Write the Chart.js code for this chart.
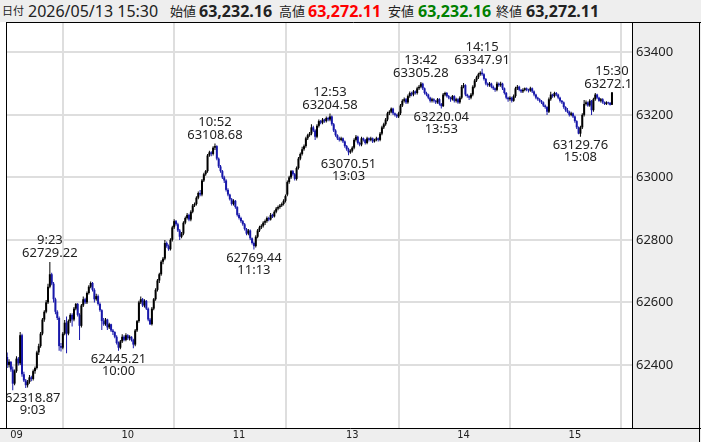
<!DOCTYPE html>
<html>
<head>
<meta charset="utf-8">
<script src="https://cdn.jsdelivr.net/npm/chart.js@4.4.1/dist/chart.umd.min.js"></script>
<style>
html, body { margin: 0; padding: 0; background: #fff; }
#wrap { position: relative; width: 701px; height: 442px; overflow: hidden; }
canvas { position: absolute; left: 0; top: 0; }
#head { position: absolute; left: 0; top: 0; width: 701px; height: 22px; background: #eeeeee;
        font-family: "Noto Sans", "Noto Sans CJK JP", sans-serif; color: #222; }
#head span { position: absolute; top: 0; line-height: 22px; white-space: nowrap; }
.lb { font-size: 13px; }
.lb0 { font-size: 11px; }
.dt { font-size: 16px; }
.v { font-size: 16px; font-weight: bold; }
</style>
</head>
<body>
<div id="wrap">
  <canvas id="chart" width="701" height="442"></canvas>
  <div id="head"></div>
</div>
<script>
// 1-minute candles, index 0 = 9:00 ... 150 = 11:30, 151 = 12:30 ... 325 = 15:24, 326 = 15:30
const opens = [
  62425,62400,62410,62385,62340,62380,62420,62405,62495,62370,
  62350,62335,62345,62360,62355,62380,62390,62440,62460,62500,
  62545,62570,62600,62650,62690,62660,62610,62570,62550,62460,
  62455,62500,62535,62500,62540,62560,62545,62580,62595,62560,
  62525,62590,62610,62600,62630,62650,62662,62640,62610,62620,
  62595,62575,62540,62530,62545,62520,62530,62510,62505,62490,
  62470,62455,62475,62490,62480,62495,62485,62490,62480,62465,
  62510,62540,62600,62610,62590,62605,62580,62545,62530,62580,
  62610,62640,62670,62690,62730,62740,62790,62780,62770,62800,
  62840,62860,62850,62830,62810,62820,62855,62870,62880,62865,
  62890,62910,62915,62935,62950,62945,62990,63010,63020,63070,
  63080,63075,63095,63100,63060,63035,63020,63000,62990,62960,
  62945,62930,62915,62925,62905,62880,62870,62860,62850,62835,
  62820,62830,62805,62790,62780,62810,62830,62840,62845,62855,
  62860,62870,62865,62880,62875,62890,62900,62905,62910,62915,
  62925,
  62945,62985,63000,63020,63010,62995,63030,63060,63075,63090,
  63100,63125,63135,63140,63160,63150,63130,63165,63180,63175,
  63185,63180,63190,63185,63195,63170,63150,63135,63125,63120,
  63125,63115,63100,63090,63080,63085,63095,63120,63130,63110,
  63105,63125,63120,63110,63125,63120,63125,63115,63120,63125,
  63120,63140,63160,63170,63185,63205,63210,63220,63205,63200,
  63195,63205,63230,63245,63250,63240,63260,63270,63265,63275,
  63270,63285,63290,63300,63285,63270,63265,63255,63245,63250,
  63245,63240,63250,63235,63228,63265,63270,63260,63255,63250,
  63260,63245,63250,63240,63255,63290,63295,63265,63260,63255,
  63265,63290,63310,63320,63330,63335,63330,63315,63300,63295,
  63300,63290,63285,63280,63300,63295,63300,63285,63270,63255,
  63250,63255,63245,63260,63285,63290,63280,63275,63280,63285,
  63280,63278,63285,63275,63265,63255,63250,63245,63240,63230,
  63225,63210,63250,63265,63260,63270,63265,63255,63245,63240,
  63225,63215,63210,63200,63205,63195,63180,63160,63140,63160,
  63200,63235,63240,63230,63245,63215,63250,63265,63255,63245,
  63250,63240,63235,63240,63238,63232.16
];
const highs = [
  62440,62418,62412,62395,62385,62428,62425,62505,62500,62378,
  62355,62352,62368,62365,62385,62395,62445,62468,62505,62550,
  62575,62608,62660,62729.22,62695,62665,62615,62575,62555,62470,
  62505,62544,62555,62545,62565,62565,62585,62598,62598,62565,
  62595,62619,62615,62635,62655,62667,62665,62645,62628,62625,
  62600,62578,62550,62550,62548,62535,62532,62515,62508,62495,
  62475,62480,62498,62495,62501,62498,62495,62492,62484,62515,
  62544,62605,62619,62614,62610,62608,62584,62550,62585,62614,
  62645,62675,62695,62735,62745,62800,62795,62785,62805,62845,
  62866,62864,62855,62835,62825,62860,62875,62886,62884,62895,
  62915,62920,62940,62955,62960,62995,63015,63024,63075,63085,
  63084,63100,63108.68,63103,63064,63040,63024,63005,62994,62965,
  62948,62934,62930,62928,62908,62886,62874,62864,62854,62838,
  62835,62833,62808,62795,62815,62835,62845,62850,62860,62865,
  62875,62874,62886,62884,62895,62905,62910,62915,62920,62930,
  62945,
  62990,63005,63024,63024,63014,63035,63065,63080,63098,63105,
  63130,63140,63145,63170,63165,63154,63170,63185,63184,63190,
  63188,63195,63194,63204.58,63198,63174,63154,63138,63130,63130,
  63128,63118,63104,63095,63090,63100,63125,63136,63133,63114,
  63130,63128,63123,63130,63128,63130,63128,63124,63130,63128,
  63145,63165,63175,63190,63210,63215,63224,63223,63208,63204,
  63210,63235,63250,63256,63254,63265,63275,63274,63280,63278,
  63290,63296,63305.28,63303,63288,63274,63268,63258,63255,63253,
  63248,63254,63253,63238,63270,63274,63273,63264,63258,63264,
  63263,63255,63253,63260,63296,63302,63298,63268,63263,63270,
  63295,63315,63325,63335,63340,63347.91,63333,63318,63304,63305,
  63303,63294,63288,63306,63304,63306,63303,63288,63273,63258,
  63260,63258,63265,63290,63296,63293,63283,63285,63288,63288,
  63284,63290,63288,63278,63268,63258,63253,63248,63243,63233,
  63228,63256,63274,63268,63274,63273,63268,63258,63248,63243,
  63228,63222,63213,63210,63208,63198,63183,63163,63165,63205,
  63248,63246,63243,63250,63248,63255,63270,63268,63258,63254,
  63253,63243,63244,63242,63241,63272.11
];
const lows = [
  62390,62392,62378,62318.87,62335,62375,62398,62400,62362,62345,
  62326,62328,62340,62348,62350,62372,62385,62432,62455,62495,
  62538,62565,62595,62645,62655,62600,62562,62544,62445,62443,
  62450,62495,62437,62495,62535,62523,62540,62575,62555,62480,
  62520,62585,62595,62595,62625,62645,62635,62600,62605,62590,
  62570,62512,62525,62525,62512,62515,62505,62496,62485,62465,
  62445.21,62450,62470,62476,62476,62480,62478,62475,62453,62460,
  62505,62535,62595,62585,62584,62576,62540,62528,62526,62575,
  62605,62635,62662,62685,62722,62735,62775,62765,62766,62795,
  62835,62845,62825,62800,62805,62815,62850,62865,62860,62860,
  62885,62905,62910,62930,62940,62940,62985,63005,63015,63066,
  63068,63070,63088,63055,63030,63015,62995,62982,62955,62940,
  62926,62910,62910,62900,62875,62865,62855,62845,62830,62815,
  62815,62800,62785,62769.44,62776,62805,62825,62835,62840,62848,
  62855,62860,62862,62870,62872,62885,62895,62900,62905,62910,
  62920,
  62940,62980,62995,63005,62990,62990,63025,63055,63070,63085,
  63095,63120,63130,63135,63145,63120,63125,63160,63170,63170,
  63175,63176,63180,63180,63165,63145,63130,63120,63115,63116,
  63110,63095,63085,63070.51,63076,63080,63090,63115,63105,63100,
  63100,63115,63105,63106,63115,63116,63110,63112,63116,63115,
  63116,63135,63155,63165,63180,63200,63205,63200,63195,63190,
  63190,63200,63225,63240,63235,63236,63255,63260,63260,63265,
  63265,63280,63285,63280,63265,63260,63250,63240,63240,63240,
  63235,63236,63230,63220.04,63225,63260,63256,63250,63242,63246,
  63240,63240,63236,63236,63250,63285,63260,63255,63248,63250,
  63260,63285,63305,63315,63325,63325,63310,63295,63290,63290,
  63285,63280,63274,63276,63290,63290,63280,63265,63250,63242,
  63245,63240,63242,63255,63280,63276,63270,63270,63276,63276,
  63272,63274,63270,63260,63250,63245,63240,63235,63225,63220,
  63200,63206,63245,63255,63256,63260,63250,63240,63235,63220,
  63210,63205,63195,63196,63190,63175,63155,63138,63129.76,63155,
  63195,63230,63226,63226,63200,63210,63245,63250,63242,63240,
  63236,63232,63232,63233,63230,63232.16
];
const closes = [
  62400,62410,62385,62340,62380,62420,62405,62495,62370,62350,
  62335,62345,62360,62355,62380,62390,62440,62460,62500,62545,
  62570,62600,62650,62690,62660,62610,62570,62550,62460,62455,
  62500,62535,62500,62540,62560,62545,62580,62595,62560,62525,
  62590,62610,62600,62630,62650,62662,62640,62610,62620,62595,
  62575,62540,62530,62545,62520,62530,62510,62505,62490,62470,
  62455,62475,62490,62480,62495,62485,62490,62480,62465,62510,
  62540,62600,62610,62590,62605,62580,62545,62530,62580,62610,
  62640,62670,62690,62730,62740,62790,62780,62770,62800,62840,
  62860,62850,62830,62810,62820,62855,62870,62880,62865,62890,
  62910,62915,62935,62950,62945,62990,63010,63020,63070,63080,
  63075,63095,63100,63060,63035,63020,63000,62990,62960,62945,
  62930,62915,62925,62905,62880,62870,62860,62850,62835,62820,
  62830,62805,62790,62780,62810,62830,62840,62845,62855,62860,
  62870,62865,62880,62875,62890,62900,62905,62910,62915,62925,
  62940,
  62985,63000,63020,63010,62995,63030,63060,63075,63090,63100,
  63125,63135,63140,63160,63150,63130,63165,63180,63175,63185,
  63180,63190,63185,63195,63170,63150,63135,63125,63120,63125,
  63115,63100,63090,63080,63085,63095,63120,63130,63110,63105,
  63125,63120,63110,63125,63120,63125,63115,63120,63125,63120,
  63140,63160,63170,63185,63205,63210,63220,63205,63200,63195,
  63205,63230,63245,63250,63240,63260,63270,63265,63275,63270,
  63285,63290,63300,63285,63270,63265,63255,63245,63250,63245,
  63240,63250,63235,63228,63265,63270,63260,63255,63250,63260,
  63245,63250,63240,63255,63290,63295,63265,63260,63255,63265,
  63290,63310,63320,63330,63335,63330,63315,63300,63295,63300,
  63290,63285,63280,63300,63295,63300,63285,63270,63255,63250,
  63255,63245,63260,63285,63290,63280,63275,63280,63285,63280,
  63278,63285,63275,63265,63255,63250,63245,63240,63230,63225,
  63210,63250,63265,63260,63270,63265,63255,63245,63240,63225,
  63215,63210,63200,63205,63195,63180,63160,63140,63160,63200,
  63235,63240,63230,63245,63215,63250,63265,63255,63245,63250,
  63240,63235,63240,63238,63232.16,63272.11
];

const hourIdx = [0, 60, 120, 181, 241, 301];
const hourLabels = ['09', '10', '11', '13', '14', '15'];
const priceTicks = [62400, 62600, 62800, 63000, 63200, 63400];

// high / low call-outs
const markIdx   = [3, 23, 60, 112, 133, 174, 184, 223, 234, 256, 309, 326];
const markPrice = [62318.87, 62729.22, 62445.21, 63108.68, 62769.44, 63204.58,
                   63070.51, 63305.28, 63220.04, 63347.91, 63129.76, 63272.11];
const markTime  = ['9:03', '9:23', '10:00', '10:52', '11:13', '12:53',
                   '13:03', '13:42', '13:53', '14:15', '15:08', '15:30'];
const markSide  = ['lo', 'hi', 'lo', 'hi', 'lo', 'hi', 'lo', 'hi', 'lo', 'hi', 'lo', 'hi'];

const lastDate = '2026/05/13 15:30';
const headLabels = ['始値', '高値', '安値', '終値'];

// header line (values of the last candle)
const last = closes.length - 1;
const fmt = v => v.toLocaleString('en-US', { minimumFractionDigits: 2, maximumFractionDigits: 2 });
const headValues = [opens[last], highs[last], lows[last], closes[last]].map(fmt);
const headColors = ['#222', '#ff0000', '#008000', '#222'];
const headPos = [[170, 199], [279, 308], [388, 418], [496, 526]];

const head = document.getElementById('head');
let html = '<span class="lb0" style="left:2px">日付</span><span class="dt" style="left:28px">' + lastDate + '</span>';
headLabels.forEach((lb, i) => {
    html += '<span class="lb" style="left:' + headPos[i][0] + 'px">' + lb + '</span>';
    html += '<span class="v" style="left:' + headPos[i][1] + 'px;color:' + headColors[i] + '">' + headValues[i] + '</span>';
});
head.innerHTML = html;

const upColor = '#000000';
const downColor = '#1818aa';
const colors = closes.map((c, i) => c >= opens[i] ? upColor : downColor);
const wickData = closes.map((c, i) => ({ x: i, y: [lows[i], highs[i]] }));
const bodyData = closes.map((c, i) => ({ x: i, y: [opens[i], c] }));

const frame = {
    id: 'frame',
    beforeDraw(chart) {
        const ctx = chart.ctx;
        const a = chart.chartArea;
        ctx.save();
        ctx.fillStyle = '#ffffff';
        ctx.fillRect(0, 0, chart.width, chart.height);
        ctx.fillStyle = '#eeeeee';
        ctx.fillRect(a.right, a.top, chart.width - a.right, a.bottom - a.top);
        ctx.fillRect(0, a.bottom, chart.width, chart.height - a.bottom);
        ctx.restore();
    },
    afterDraw(chart) {
        const ctx = chart.ctx;
        const a = chart.chartArea;
        ctx.save();
        ctx.strokeStyle = '#000';
        ctx.lineWidth = 1;
        ctx.beginPath();
        ctx.moveTo(a.left - 1, a.top - 0.5); ctx.lineTo(chart.width, a.top - 0.5);
        ctx.moveTo(0, a.bottom + 0.5); ctx.lineTo(chart.width, a.bottom + 0.5);
        ctx.moveTo(a.left - 0.5, a.top - 1); ctx.lineTo(a.left - 0.5, a.bottom + 1);
        ctx.moveTo(a.right + 0.5, a.top - 1); ctx.lineTo(a.right + 0.5, a.bottom + 1);
        ctx.moveTo(chart.width - 1.5, a.top - 1); ctx.lineTo(chart.width - 1.5, chart.height);
        ctx.stroke();
        ctx.restore();
    }
};

const marks = {
    id: 'marks',
    afterDatasetsDraw(chart) {
        const ctx = chart.ctx;
        const a = chart.chartArea;
        const xs = chart.scales.x, ys = chart.scales.y;
        ctx.save();
        ctx.beginPath();
        ctx.rect(a.left, a.top, a.right - a.left, a.bottom - a.top);
        ctx.clip();
        ctx.font = '13px "Noto Sans"';
        ctx.fillStyle = '#222';
        ctx.textAlign = 'center';
        ctx.textBaseline = 'middle';
        markIdx.forEach((idx, i) => {
            const px = xs.getPixelForValue(idx);
            const py = ys.getPixelForValue(markPrice[i]);
            const priceText = markPrice[i].toFixed(2);
            const w = Math.max(ctx.measureText(priceText).width, ctx.measureText(markTime[i]).width);
            const cx = Math.max(px, a.left - 2 + w / 2);
            if (markSide[i] === 'hi') {
                ctx.fillText(markTime[i], cx, py - 21.5);
                ctx.fillText(priceText, cx, py - 8.5);
            } else {
                ctx.fillText(priceText, cx, py + 8.5);
                ctx.fillText(markTime[i], cx, py + 20.5);
            }
        });
        ctx.restore();
    }
};

new Chart(document.getElementById('chart'), {
    type: 'bar',
    data: {
        datasets: [
            { label: 'wick', data: wickData, backgroundColor: colors, barThickness: 1, inflateAmount: 0, grouped: false, borderWidth: 0 },
            { label: 'body', data: bodyData, backgroundColor: colors, barThickness: 2, inflateAmount: 0, grouped: false, borderWidth: 0 }
        ]
    },
    options: {
        responsive: false,
        animation: false,
        devicePixelRatio: 1,
        layout: { padding: { left: 7, top: 23, right: 0, bottom: 0 } },
        plugins: { legend: { display: false }, tooltip: { enabled: false } },
        scales: {
            x: {
                type: 'linear',
                min: -0.1,
                max: 336.8,
                offset: false,
                afterBuildTicks: s => { s.ticks = hourIdx.map(v => ({ value: v })); },
                afterFit: s => { s.height = 14; },
                grid: { color: '#dedede', lineWidth: 2, drawTicks: false },
                border: { display: false },
                ticks: {
                    align: 'start', labelOffset: 3, padding: 1, autoSkip: false, maxRotation: 0,
                    color: '#222', font: { family: 'DejaVu Sans Condensed', size: 11 },
                    callback: (v, i) => hourLabels[i]
                }
            },
            y: {
                position: 'right',
                min: 62198,
                max: 63494,
                afterBuildTicks: s => { s.ticks = priceTicks.map(v => ({ value: v })); },
                afterFit: s => { s.width = 69; },
                grid: { color: '#dedede', lineWidth: 2, drawTicks: false },
                border: { display: false },
                ticks: {
                    padding: 4, color: '#222', font: { family: 'Noto Sans', size: 13 },
                    callback: v => String(v)
                }
            }
        }
    },
    plugins: [frame, marks]
});
</script>
</body>
</html>
